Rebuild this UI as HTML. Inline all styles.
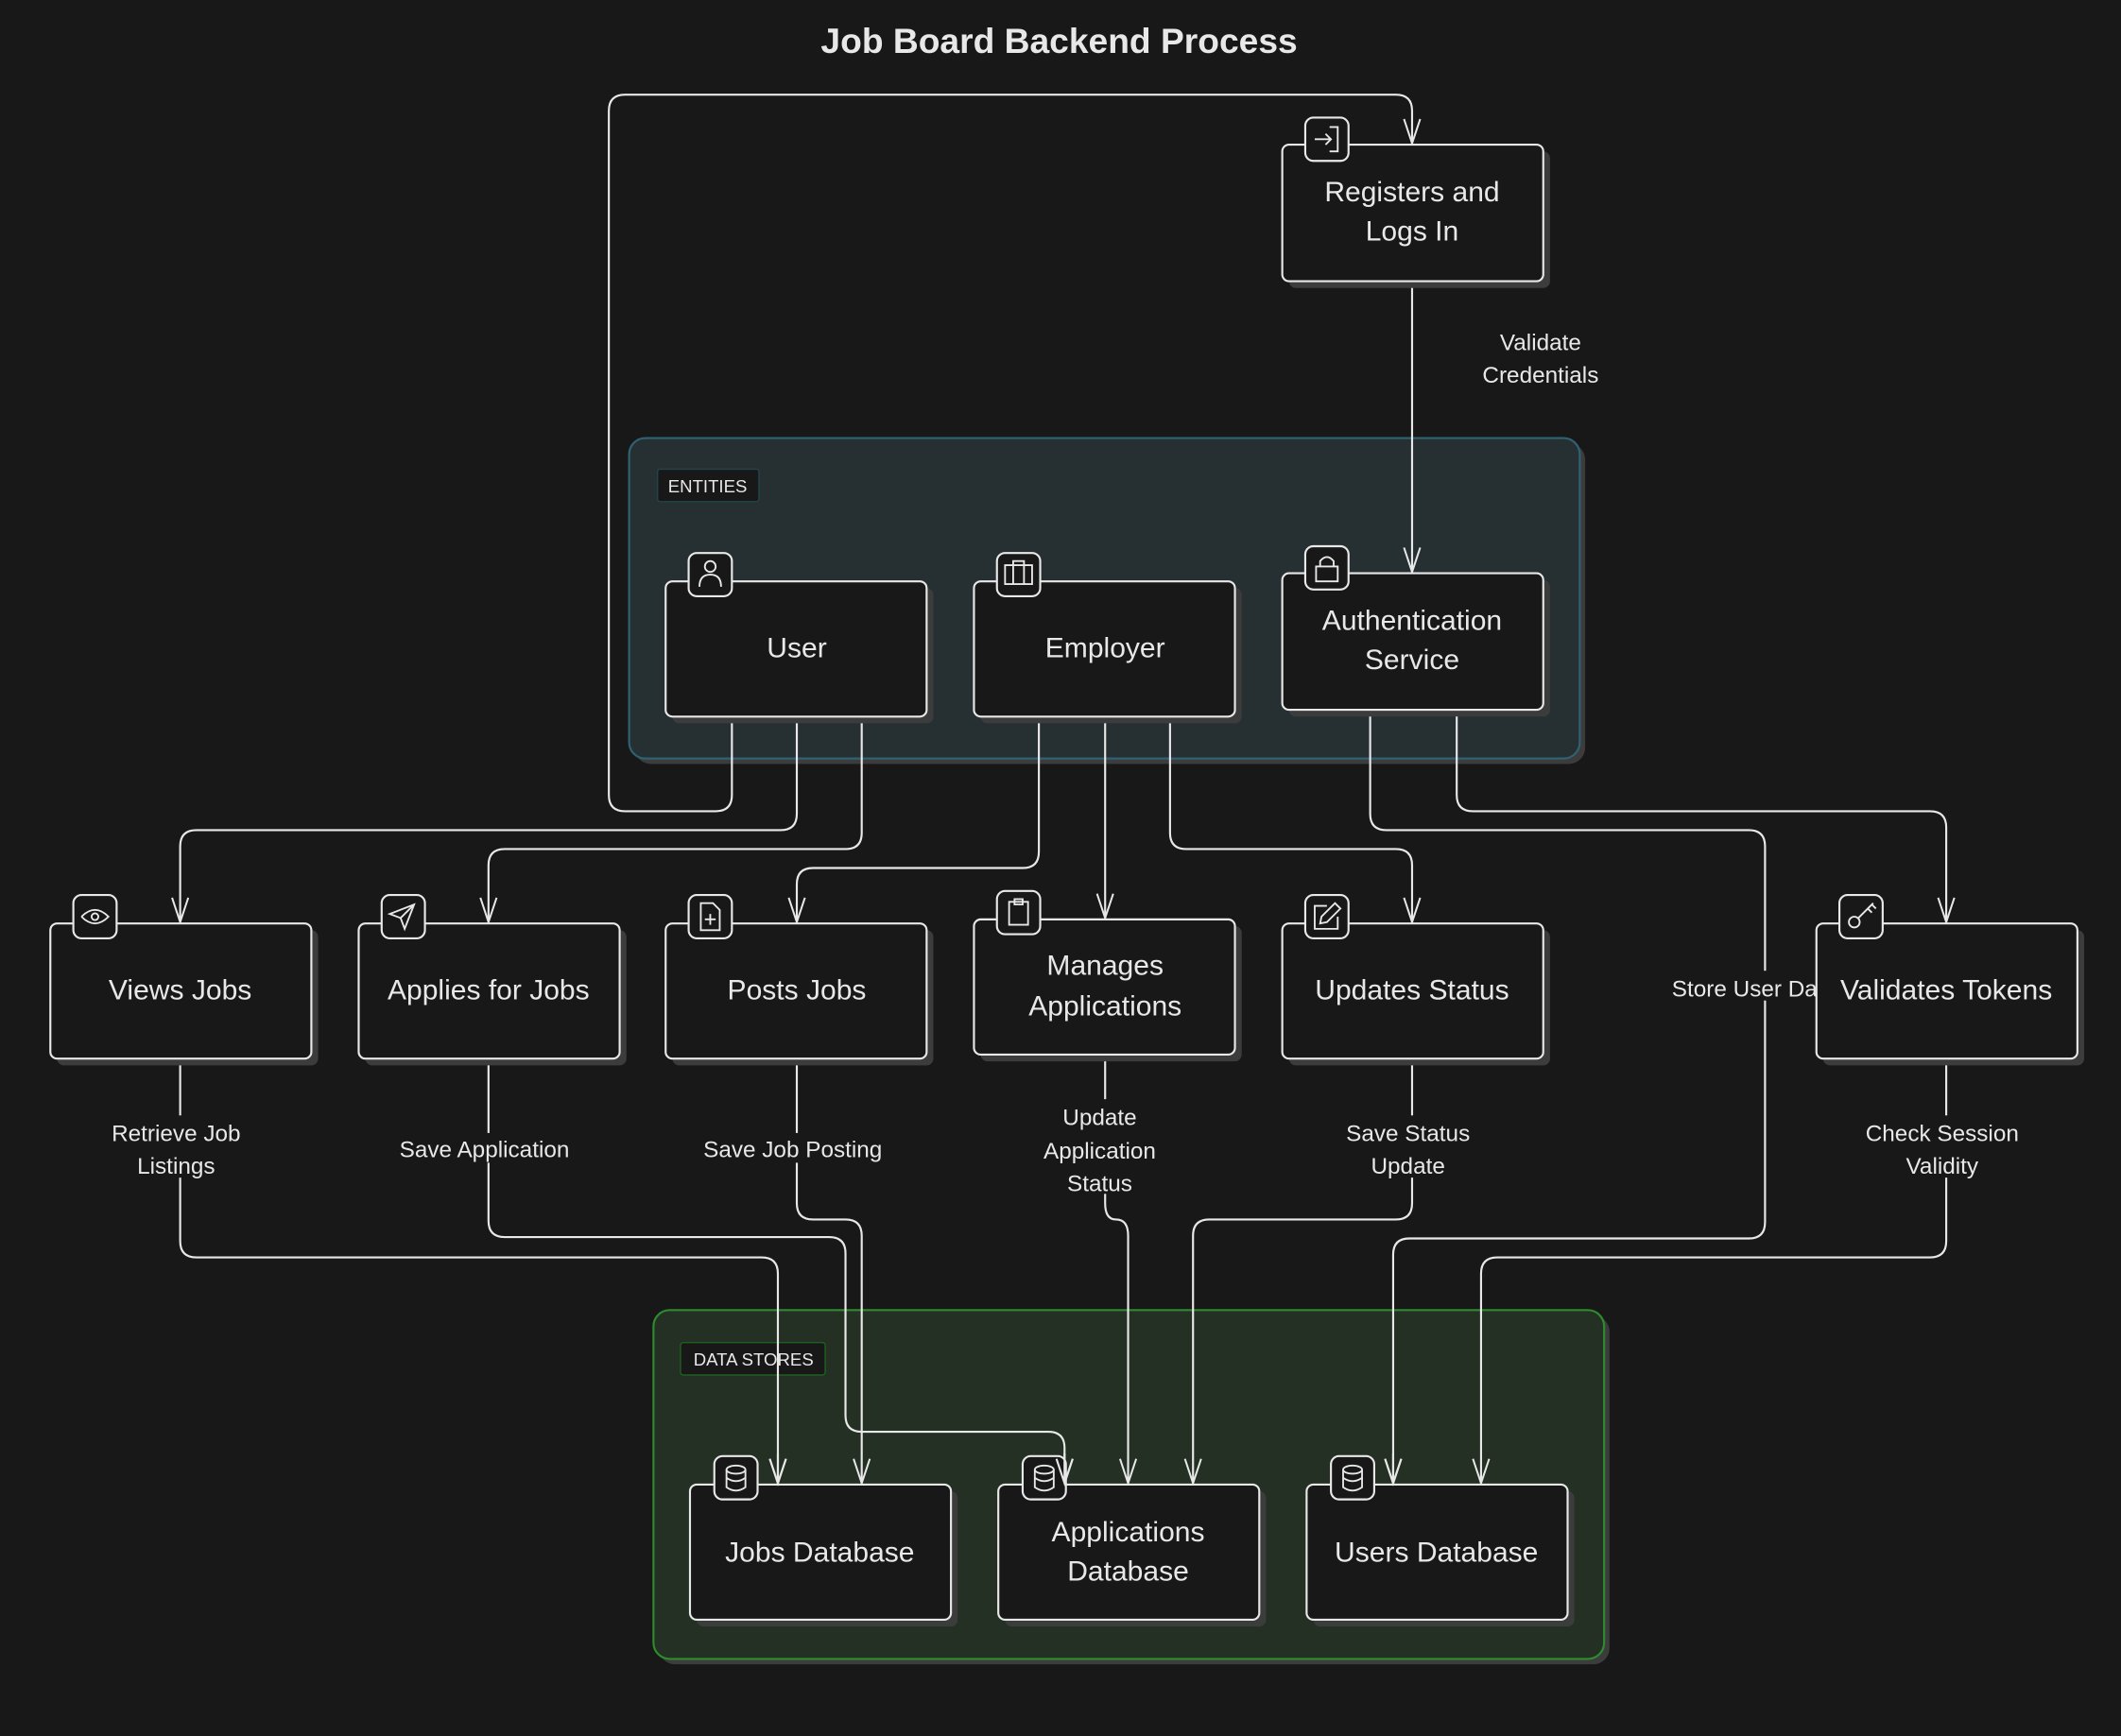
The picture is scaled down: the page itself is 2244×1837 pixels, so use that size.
<!DOCTYPE html>
<html><head><meta charset="utf-8"><style>
html,body{margin:0;padding:0;background:#181818;}
svg{display:block;}
text{font-family:"Liberation Sans",sans-serif;fill:#e8e8e8;}
</style></head><body>
<svg width="2244" height="1837" viewBox="0 0 1568 1284" xmlns="http://www.w3.org/2000/svg">
<defs>
<marker id="a" markerWidth="14" markerHeight="20" refX="7" refY="19" orient="0" markerUnits="userSpaceOnUse">
<path d="M1 1 L7 19 L13 1" fill="none" stroke="#e8e8e8" stroke-width="1.4"/>
</marker>
</defs>
<rect width="1568" height="1284" fill="#181818"/>
<text x="783" y="39" text-anchor="middle" font-size="26" font-weight="bold" fill="#fff">Job Board Backend Process</text>

<rect x="469" y="328" width="703" height="237" rx="12" fill="#3c3c3c"/>
<rect x="465" y="324" width="703" height="237" rx="12" fill="#263033" stroke="#2f6273" stroke-width="1.5"/>
<rect x="486" y="347" width="75" height="24" rx="2" fill="#181818" stroke="#24434d"/>
<text x="523" y="364" text-anchor="middle" font-size="13">ENTITIES</text>
<rect x="487" y="973" width="703" height="258" rx="12" fill="#3c3c3c"/>
<rect x="483" y="969" width="703" height="258" rx="12" fill="#233023" stroke="#2e8b2e" stroke-width="1.5"/>
<rect x="503" y="993" width="107" height="24" rx="2" fill="#181818" stroke="#1f5f1f"/>
<text x="557" y="1010" text-anchor="middle" font-size="13">DATA STORES</text>

<g fill="none" stroke="#e8e8e8" stroke-width="1.5" marker-end="url(#a)">
<path d="M541 530 V588 Q541 600 529 600 H462 Q450 600 450 588 V82 Q450 70 462 70 H1032 Q1044 70 1044 82 V106"/>
<path d="M1044 208 V423"/>
<path d="M589 530 V602 Q589 614 577 614 H145 Q133 614 133 626 V682"/>
<path d="M637 530 V616 Q637 628 625 628 H373 Q361 628 361 640 V682"/>
<path d="M768 530 V630 Q768 642 756 642 H601 Q589 642 589 654 V682"/>
<path d="M817 530 V679"/>
<path d="M865 530 V616 Q865 628 877 628 H1032 Q1044 628 1044 640 V682"/>
<path d="M1013 525 V602 Q1013 614 1025 614 H1293 Q1305 614 1305 626 V904 Q1305 916 1293 916 H1042 Q1030 916 1030 928 V1097"/>
<path d="M1077 525 V588 Q1077 600 1089 600 H1427 Q1439 600 1439 612 V682"/>
<path d="M133 783 V918 Q133 930 145 930 H563 Q575 930 575 942 V1097"/>
<path d="M361 783 V903 Q361 915 373 915 H613 Q625 915 625 927 V1047 Q625 1059 637 1059 H775 Q787 1059 787 1071 V1097"/>
<path d="M589 783 V890 Q589 902 601 902 H625 Q637 902 637 914 V1097"/>
<path d="M817 780 V890 Q817 902 825 902 Q834 902 834 914 V1097"/>
<path d="M1044 783 V890 Q1044 902 1032 902 H894 Q882 902 882 914 V1097"/>
<path d="M1439 783 V918 Q1439 930 1427 930 H1107 Q1095 930 1095 942 V1097"/>
</g>

<g font-size="17" text-anchor="middle">
<rect x="1090" y="240" width="98" height="46" fill="#181818"/>
<text x="1139" y="259">Validate</text><text x="1139" y="283">Credentials</text>
<rect x="78" y="825" width="106" height="46" fill="#181818"/>
<text x="130" y="844">Retrieve Job</text><text x="130" y="868">Listings</text>
<rect x="290" y="838" width="136" height="22" fill="#181818"/>
<text x="358" y="856">Save Application</text>
<rect x="515" y="838" width="142" height="22" fill="#181818"/>
<text x="586" y="856">Save Job Posting</text>
<rect x="768" y="813" width="92" height="70" fill="#181818"/>
<text x="813" y="832">Update</text><text x="813" y="857">Application</text><text x="813" y="881">Status</text>
<rect x="990" y="825" width="102" height="46" fill="#181818"/>
<text x="1041" y="844">Save Status</text><text x="1041" y="868">Update</text>
<rect x="1372" y="825" width="128" height="46" fill="#181818"/>
<text x="1436" y="844">Check Session</text><text x="1436" y="868">Validity</text>
<rect x="1231" y="718" width="130" height="22" fill="#181818"/>
<text x="1297" y="737">Store User Data</text>
</g>

<g font-size="21" text-anchor="middle">
<rect x="953" y="112" width="193" height="101" rx="5" fill="#3c3c3c"/><rect x="948" y="107" width="193" height="101" rx="5" fill="#181818" stroke="#e8e8e8" stroke-width="1.5"/>
<text x="1044" y="149">Registers and</text><text x="1044" y="178">Logs In</text>
<rect x="965" y="87" width="32" height="32" rx="6" fill="#181818" stroke="#e8e8e8" stroke-width="1.5"/>
<path d="M983 94 h6 v18 h-6 M972 103 h12 M980 99 l4 4 -4 4" fill="none" stroke="#e8e8e8" stroke-width="1.3"/>

<rect x="497" y="435" width="193" height="100" rx="5" fill="#3c3c3c"/><rect x="492" y="430" width="193" height="100" rx="5" fill="#181818" stroke="#e8e8e8" stroke-width="1.5"/>
<text x="589" y="486">User</text>
<rect x="509" y="409" width="32" height="32" rx="6" fill="#181818" stroke="#e8e8e8" stroke-width="1.5"/>
<circle cx="525" cy="419" r="4" fill="none" stroke="#e8e8e8" stroke-width="1.3"/><path d="M517 434 q0-9 8-9 q8 0 8 9" fill="none" stroke="#e8e8e8" stroke-width="1.3"/>

<rect x="725" y="435" width="193" height="100" rx="5" fill="#3c3c3c"/><rect x="720" y="430" width="193" height="100" rx="5" fill="#181818" stroke="#e8e8e8" stroke-width="1.5"/>
<text x="817" y="486">Employer</text>
<rect x="737" y="409" width="32" height="32" rx="6" fill="#181818" stroke="#e8e8e8" stroke-width="1.5"/>
<path d="M743 418 h20 v14 h-20 z M749 418 v-3 h8 v3 M749 418 v14 M757 418 v14" fill="none" stroke="#e8e8e8" stroke-width="1.3"/>

<rect x="953" y="429" width="193" height="101" rx="5" fill="#3c3c3c"/><rect x="948" y="424" width="193" height="101" rx="5" fill="#181818" stroke="#e8e8e8" stroke-width="1.5"/>
<text x="1044" y="466">Authentication</text><text x="1044" y="495">Service</text>
<rect x="965" y="404" width="32" height="32" rx="6" fill="#181818" stroke="#e8e8e8" stroke-width="1.5"/>
<path d="M973 419 h16 v11 h-16 z M976 419 v-4 q5-6 10 0 v4" fill="none" stroke="#e8e8e8" stroke-width="1.3"/>

<rect x="42" y="688" width="193" height="100" rx="5" fill="#3c3c3c"/><rect x="37" y="683" width="193" height="100" rx="5" fill="#181818" stroke="#e8e8e8" stroke-width="1.5"/>
<text x="133" y="739">Views Jobs</text>
<rect x="54" y="662" width="32" height="32" rx="6" fill="#181818" stroke="#e8e8e8" stroke-width="1.5"/>
<path d="M60 678 q10 -10 20 0 q-10 10 -20 0" fill="none" stroke="#e8e8e8" stroke-width="1.3"/><circle cx="70" cy="678" r="2.5" fill="none" stroke="#e8e8e8" stroke-width="1.3"/>

<rect x="270" y="688" width="193" height="100" rx="5" fill="#3c3c3c"/><rect x="265" y="683" width="193" height="100" rx="5" fill="#181818" stroke="#e8e8e8" stroke-width="1.5"/>
<text x="361" y="739">Applies for Jobs</text>
<rect x="282" y="662" width="32" height="32" rx="6" fill="#181818" stroke="#e8e8e8" stroke-width="1.5"/>
<path d="M288 676 l18 -7 -7 18 -3 -8 z M296 679 l10 -10" fill="none" stroke="#e8e8e8" stroke-width="1.3"/>

<rect x="497" y="688" width="193" height="100" rx="5" fill="#3c3c3c"/><rect x="492" y="683" width="193" height="100" rx="5" fill="#181818" stroke="#e8e8e8" stroke-width="1.5"/>
<text x="589" y="739">Posts Jobs</text>
<rect x="509" y="662" width="32" height="32" rx="6" fill="#181818" stroke="#e8e8e8" stroke-width="1.5"/>
<path d="M518 668 h9 l5 5 v15 h-14 z M525 676 v8 M521 680 h8" fill="none" stroke="#e8e8e8" stroke-width="1.3"/>

<rect x="725" y="685" width="193" height="100" rx="5" fill="#3c3c3c"/><rect x="720" y="680" width="193" height="100" rx="5" fill="#181818" stroke="#e8e8e8" stroke-width="1.5"/>
<text x="817" y="721">Manages</text><text x="817" y="751">Applications</text>
<rect x="737" y="659" width="32" height="32" rx="6" fill="#181818" stroke="#e8e8e8" stroke-width="1.5"/>
<path d="M746 667 h14 v17 h-14 z M750 665 h6 v4 h-6 z" fill="none" stroke="#e8e8e8" stroke-width="1.3"/>

<rect x="953" y="688" width="193" height="100" rx="5" fill="#3c3c3c"/><rect x="948" y="683" width="193" height="100" rx="5" fill="#181818" stroke="#e8e8e8" stroke-width="1.5"/>
<text x="1044" y="739">Updates Status</text>
<rect x="965" y="662" width="32" height="32" rx="6" fill="#181818" stroke="#e8e8e8" stroke-width="1.5"/>
<path d="M981 670 h-9 v17 h17 v-9 M976 683 l1 -5 10 -10 4 4 -10 10 z" fill="none" stroke="#e8e8e8" stroke-width="1.3"/>

<rect x="1348" y="688" width="193" height="100" rx="5" fill="#3c3c3c"/><rect x="1343" y="683" width="193" height="100" rx="5" fill="#181818" stroke="#e8e8e8" stroke-width="1.5"/>
<text x="1439" y="739">Validates Tokens</text>
<rect x="1360" y="662" width="32" height="32" rx="6" fill="#181818" stroke="#e8e8e8" stroke-width="1.5"/>
<circle cx="1371" cy="682" r="4" fill="none" stroke="#e8e8e8" stroke-width="1.3"/><path d="M1374 679 l11 -11 M1381 672 l3 3 M1384 669 l3 3" fill="none" stroke="#e8e8e8" stroke-width="1.3"/>

<rect x="515" y="1103" width="193" height="100" rx="5" fill="#3c3c3c"/><rect x="510" y="1098" width="193" height="100" rx="5" fill="#181818" stroke="#e8e8e8" stroke-width="1.5"/>
<text x="606" y="1155">Jobs Database</text>
<rect x="743" y="1103" width="193" height="100" rx="5" fill="#3c3c3c"/><rect x="738" y="1098" width="193" height="100" rx="5" fill="#181818" stroke="#e8e8e8" stroke-width="1.5"/>
<text x="834" y="1140">Applications</text><text x="834" y="1169">Database</text>
<rect x="971" y="1103" width="193" height="100" rx="5" fill="#3c3c3c"/><rect x="966" y="1098" width="193" height="100" rx="5" fill="#181818" stroke="#e8e8e8" stroke-width="1.5"/>
<text x="1062" y="1155">Users Database</text>
</g>
<g fill="#181818" stroke="#e8e8e8" stroke-width="1.5">
<rect x="528" y="1077" width="32" height="32" rx="6"/>
<rect x="756" y="1077" width="32" height="32" rx="6"/>
<rect x="984" y="1077" width="32" height="32" rx="6"/>
</g>
<g fill="none" stroke="#e8e8e8" stroke-width="1.3">
<ellipse cx="544" cy="1087" rx="7" ry="3"/><path d="M537 1087 v13 q7 5 14 0 v-13 M537 1093 q7 5 14 0"/>
<ellipse cx="772" cy="1087" rx="7" ry="3"/><path d="M765 1087 v13 q7 5 14 0 v-13 M765 1093 q7 5 14 0"/>
<ellipse cx="1000" cy="1087" rx="7" ry="3"/><path d="M993 1087 v13 q7 5 14 0 v-13 M993 1093 q7 5 14 0"/>
</g>
<g fill="none" stroke="#e8e8e8" stroke-width="1.5">
<path d="M787 1075 V1097 M781 1079 L787 1097 793 1079"/>
<path d="M1030 1075 V1097 M1024 1079 L1030 1097 1036 1079"/>
<path d="M575 1075 V1097 M569 1079 L575 1097 581 1079"/>
</g>
</svg>
</body></html>
